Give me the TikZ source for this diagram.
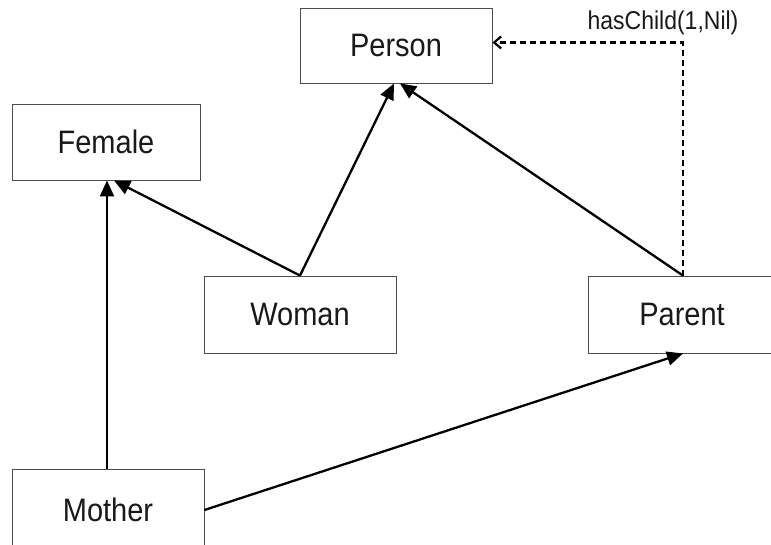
\documentclass[tikz,border=0pt]{standalone}
\usepackage{fontspec}
\setmainfont{Liberation Sans}
\usetikzlibrary{arrows.meta}
\newcommand{\tall}[1]{\scalebox{1}[1.12]{#1}}
\begin{document}
\begin{tikzpicture}[x=1pt,y=-1pt,
  box/.style={draw=black!70,line width=0.9pt,rectangle,inner sep=0pt,font=\fontsize{29}{32}\selectfont,text=black!90},
  isa/.style={line width=2.3pt,-{Triangle[length=16pt,width=14pt]}},
  restr/.style={line width=2.2pt,dash pattern=on 6pt off 4pt,-{Straight Barb[length=7pt,width=12pt,line width=2.2pt]}}]
\useasboundingbox (0,0) rectangle (771,545);
\node[box,minimum width=192pt,minimum height=75pt] (person) at (396,45.5) {\tall{Person}};
\node[box,minimum width=188pt,minimum height=76pt] (female) at (106,142) {\tall{Female}};
\node[box,minimum width=192pt,minimum height=77pt] (woman) at (300,314.5) {\tall{Woman}};
\node[box,minimum width=188pt,minimum height=77pt] (parent) at (682,314.5) {\tall{Parent}};
\node[box,minimum width=192pt,minimum height=82pt] (mother) at (108,510) {\tall{Mother}};
\node[font=\fontsize{23}{26}\selectfont,text=black!90] (lbl) at (663,23) {\tall{hasChild(1,Nil)}};
\draw[isa] ([xshift=-1pt]mother.north) -- ([xshift=1pt]female.south);
\draw[isa] (woman.north) -- ([xshift=8pt]female.south);
\draw[isa] (woman.north) -- ([xshift=-2pt]person.south);
\draw[isa] ([xshift=1pt]parent.north) -- ([xshift=4pt]person.south);
\draw[isa] (mother.east) -- ([xshift=1pt]parent.south);
\draw[restr] ([xshift=1pt]parent.north) |- ([yshift=3pt]person.east);
\end{tikzpicture}
\end{document}
